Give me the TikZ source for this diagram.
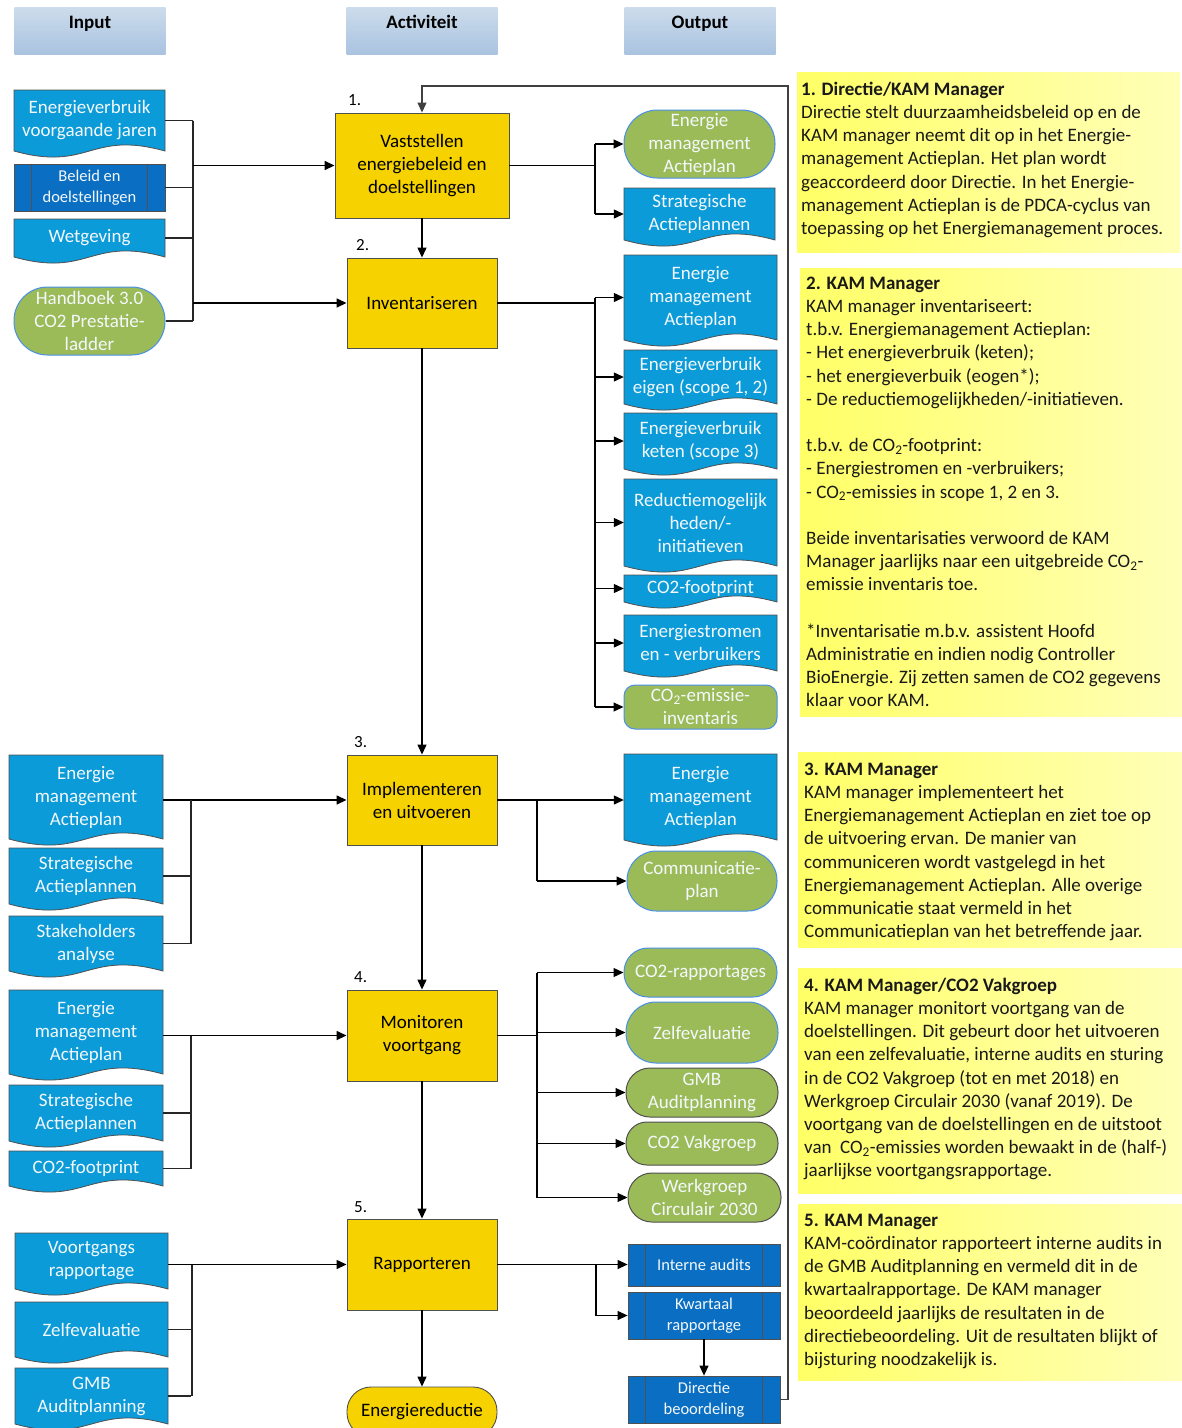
\documentclass[tikz,border=0pt]{standalone}
\usepackage{fontspec}
\setmainfont{Carlito}
\usetikzlibrary{arrows.meta}
\definecolor{docblue}{HTML}{0A9BD8}
\definecolor{predblue}{HTML}{0A6FC2}
\definecolor{grn}{HTML}{9BBB59}
\definecolor{actyel}{HTML}{F5D200}
\definecolor{stadb}{HTML}{4A8FE7}
\definecolor{edge}{HTML}{505050}
\definecolor{hdrtop}{HTML}{CDDCEC}
\definecolor{hdrbot}{HTML}{A9C3E0}
\definecolor{noteL}{HTML}{FFFF66}
\definecolor{noteR}{HTML}{FFFFB8}
\definecolor{wtxt}{HTML}{F4F8FB}
\newcommand\myshapefont{\fontsize{19}{23}\selectfont}
\newcommand\mypredfont{\fontsize{16.5}{21}\selectfont}
\newcommand\mynotefont{\fontsize{19}{23.2}\selectfont}
\tikzset{
  shapetext/.style={inner sep=0pt, align=center, text=wtxt, font=\myshapefont},
  docshp/.style={fill=docblue, draw=edge, line width=0.8pt},
  pred/.style={fill=predblue, draw=edge, line width=0.8pt, inner sep=0pt, align=center, text=wtxt, font=\mypredfont},
  predln/.style={draw=edge, line width=0.8pt},
  stad/.style={fill=grn, line width=1pt, inner sep=0pt, align=center, text=wtxt, font=\myshapefont},
  act/.style={fill=actyel, draw=edge, line width=0.9pt, inner sep=0pt, align=center, text=black, font=\myshapefont},
  hdr/.style={top color=hdrtop, bottom color=hdrbot, draw=none, inner sep=0pt, font=\myshapefont\bfseries, text height=13pt, text depth=18pt},
  steplbl/.style={anchor=west, inner sep=0pt, font=\fontsize{17}{20}\selectfont},
  notebox/.style={left color=noteL, right color=noteR, draw=none, anchor=north west, inner sep=0pt},
  notetext/.style={anchor=north west, inner sep=0pt, align=left, font=\mynotefont, text=black!90},
  arr/.style={draw=black, line width=1.5pt, -{Triangle[length=10pt,width=9pt]}},
  oarr/.style={draw=black, line width=1.2pt, -{Triangle[length=10pt,width=9pt]}},
  ln/.style={draw=black, line width=1.2pt},
  thinln/.style={draw=black!85, line width=1.1pt}
}
% document shape: name x1 y1 x2 y2(wave bottom) text
\newcommand\docnode[6]{%
  \pgfmathsetmacro\dw{#4-#2}\pgfmathsetmacro\dh{#5-#3-6}%
  \pgfmathsetmacro\dcx{(#2+#4)/2}\pgfmathsetmacro\dyb{#5-6}%
  \pgfmathsetmacro\dcy{(#3+\dyb)/2}%
  \filldraw[docshp] (#2,#3) -- (#4,#3) -- (#4,\dyb) .. controls (\dcx,\dyb-21) and (\dcx,\dyb+21) .. (#2,\dyb) -- cycle;
  \node[shapetext, minimum width=\dw pt, minimum height=\dh pt] (#1) at (\dcx,\dcy) {#6};}
% predefined process: name x1 y1 x2 y2 text
\newcommand\prednode[6]{%
  \pgfmathsetmacro\pw{#4-#2}\pgfmathsetmacro\ph{#5-#3}%
  \node[pred, minimum width=\pw pt, minimum height=\ph pt] (#1) at ({(#2+#4)/2},{(#3+#5)/2}) {#6};
  \draw[predln] ([xshift=18pt]#1.north west) -- ([xshift=18pt]#1.south west);
  \draw[predln] ([xshift=-18pt]#1.north east) -- ([xshift=-18pt]#1.south east);}
% stadium: name x1 y1 x2 y2 bordercolour text
\newcommand\stadnode[7]{%
  \pgfmathsetmacro\sw{#4-#2}\pgfmathsetmacro\sh{#5-#3}\pgfmathsetmacro\sr{\sh/2-0.5}%
  \node[stad, draw=#6, minimum width=\sw pt, minimum height=\sh pt, rounded corners=\sr pt] (#1) at ({(#2+#4)/2},{(#3+#5)/2}) {#7};}
\begin{document}
\begin{tikzpicture}[x=1pt,y=-1pt]
\useasboundingbox (0,0) rectangle (1182,1428);
\fill[white] (0,0) rectangle (1182,1428);

% headers
\node[hdr, minimum width=151pt, minimum height=47pt] (hin) at (90,30.5) {Input};
\node[hdr, minimum width=151pt, minimum height=47pt] (hact) at (422,30.5) {Activiteit};
\node[hdr, minimum width=151pt, minimum height=47pt] (hout) at (700,30.5) {Output};

% activities
\node[act, minimum width=174pt, minimum height=105pt] (a1) at (422,165.5) {Vaststellen\\energiebeleid en\\doelstellingen};
\node[act, minimum width=150pt, minimum height=90pt] (a2) at (422,303) {Inventariseren};
\node[act, minimum width=150pt, minimum height=90pt] (a3) at (422,800) {Implementeren\\en uitvoeren};
\node[act, minimum width=150pt, minimum height=91pt] (a4) at (422,1035.5) {Monitoren\\voortgang};
\node[act, minimum width=150pt, minimum height=91pt] (a5) at (422,1264.5) {Rapporteren};
\node[act, minimum width=150pt, minimum height=50pt, rounded corners=24pt] (er) at (422,1412) {Energiereductie};

\node[steplbl] (s1) at (348,100) {1.};
\node[steplbl] (s2) at (356,245) {2.};
\node[steplbl] (s3) at (354,742) {3.};
\node[steplbl] (s4) at (354,977) {4.};
\node[steplbl] (s5) at (354,1207) {5.};

% section 1 inputs
\docnode{i1a}{14}{90}{165}{157}{Energieverbruik\\voorgaande jaren}
\prednode{i1b}{14}{164}{165}{211}{Beleid en\\doelstellingen}
\docnode{i1c}{14}{219}{165}{263}{Wetgeving}
\stadnode{i1d}{14}{287}{165}{355}{stadb}{Handboek 3.0\\CO2 Prestatie-\\ladder}

% section 1 outputs
\stadnode{o1a}{624}{110}{775}{178}{stadb}{Energie\\management\\Actieplan}
\docnode{o1b}{624}{188}{775}{246}{Strategische\\Actieplannen}

% section 2 outputs
\docnode{o2a}{624}{255}{777}{346}{Energie\\management\\Actieplan}
\docnode{o2b}{624}{350}{777}{410}{Energieverbruik\\eigen (scope 1, 2)}
\docnode{o2c}{624}{413}{777}{475}{Energieverbruik\\keten (scope 3)}
\docnode{o2d}{624}{479}{777}{572}{Reductiemogelijk\\heden/-\\initiatieven}
\docnode{o2e}{624}{575}{777}{608}{CO2-footprint}
\docnode{o2f}{624}{615}{777}{677}{Energiestromen\\en - verbruikers}
\node[stad, draw=stadb, minimum width=153pt, minimum height=44pt, rounded corners=11pt] (o2g) at (700.5,707) {CO\textsubscript{2}-emissie-\\inventaris};

% section 3
\docnode{i3a}{9}{755}{163}{845}{Energie\\management\\Actieplan}
\docnode{i3b}{9}{848}{163}{910}{Strategische\\Actieplannen}
\docnode{i3c}{9}{916}{163}{977}{Stakeholders\\analyse}
\docnode{o3a}{624}{754}{777}{846}{Energie\\management\\Actieplan}
\stadnode{o3b}{627}{851}{777}{911}{stadb}{Communicatie-\\plan}

% section 4
\docnode{i4a}{9}{990}{163}{1080}{Energie\\management\\Actieplan}
\docnode{i4b}{9}{1085}{163}{1147}{Strategische\\Actieplannen}
\docnode{i4c}{9}{1151}{163}{1192}{CO2-footprint}
\stadnode{o4a}{624}{948}{777}{997}{stadb}{CO2-rapportages}
\stadnode{o4b}{626}{1002}{778}{1063}{stadb}{Zelfevaluatie}
\stadnode{o4c}{626}{1068}{778}{1117}{edge}{GMB\\Auditplanning}
\stadnode{o4d}{626}{1122}{778}{1165}{edge}{CO2 Vakgroep}
\stadnode{o4e}{628}{1173}{781}{1222}{edge}{Werkgroep\\Circulair 2030}

% section 5
\docnode{i5a}{15}{1233}{168}{1295}{Voortgangs\\rapportage}
\docnode{i5b}{15}{1302}{168}{1363}{Zelfevaluatie}
\docnode{i5c}{15}{1368}{168}{1430}{GMB\\Auditplanning}
\prednode{o5a}{628}{1244}{780}{1286}{Interne audits}
\prednode{o5b}{628}{1292}{780}{1339}{Kwartaal\\rapportage}
\prednode{o5c}{628}{1376}{780}{1423}{Directie\\beoordeling}

% bus coordinates
\coordinate (b1) at (193,0);
\coordinate (b2) at (595,0);
\coordinate (b3) at (191,0);
\coordinate (b4) at (537,0);
\coordinate (b5) at (596,0);
\coordinate (fb) at (788,86);

% section 1 connectors
\foreach \n in {i1a,i1b,i1c,i1d} \draw[thinln] (\n.east) -- (\n.east -| b1);
\draw[thinln] (i1a.east -| b1) -- (i1d.east -| b1);
\draw[arr] (b1 |- a1.west) -- (a1.west);
\draw[arr] (b1 |- a2.west) -- (a2.west);
\draw[ln] (a1.east) -- (b2 |- a1.east);
\draw[ln] (b2 |- o1a.west) -- (b2 |- o1b.west);
\draw[oarr] (b2 |- o1a.west) -- (o1a.west);
\draw[oarr] (b2 |- o1b.west) -- (o1b.west);

% section 2 connectors
\draw[ln] (a2.east) -- (b2 |- a2.east);
\draw[ln] (b2 |- o2a.west) -- (b2 |- o2g.west);
\foreach \n in {o2a,o2b,o2c,o2d,o2e,o2f,o2g} \draw[oarr] (b2 |- \n.west) -- (\n.west);

% section 3 connectors
\draw[arr] (i3a.east |- a3.west) -- (a3.west);
\draw[thinln] (i3b.east) -- (i3b.east -| b3);
\draw[thinln] (i3c.east) -- (i3c.east -| b3);
\draw[thinln] (b3 |- a3.west) -- (b3 |- i3c.east);
\draw[oarr] (a3.east) -- (a3.east -| o3a.west);
\draw[ln] (b4 |- a3.east) -- (b4 |- o3b.west);
\draw[oarr] (b4 |- o3b.west) -- (o3b.west);

% section 4 connectors
\draw[arr] (i4a.east |- a4.west) -- (a4.west);
\draw[thinln] (i4b.east) -- (i4b.east -| b3);
\draw[thinln] (i4c.east) -- (i4c.east -| b3);
\draw[thinln] (b3 |- a4.west) -- (b3 |- i4c.east);
\draw[ln] (a4.east) -- (b4 |- a4.east);
\draw[ln] (b4 |- o4a.west) -- (b4 |- o4e.west);
\foreach \n in {o4a,o4b,o4c,o4d,o4e} \draw[oarr] (b4 |- \n.west) -- (\n.west);

% section 5 connectors
\draw[arr] (i5a.east |- a5.west) -- (a5.west);
\draw[thinln] (i5b.east) -- (i5b.east -| b3);
\draw[thinln] (i5c.east) -- (i5c.east -| b3);
\draw[thinln] ([xshift=1pt]b3 |- a5.west) -- ([xshift=1pt]b3 |- i5c.east);
\draw[oarr] (a5.east) -- (a5.east -| o5a.west);
\draw[ln] (b5 |- a5.east) -- (b5 |- o5b.west);
\draw[oarr] (b5 |- o5b.west) -- (o5b.west);
\draw[oarr] (o5b.south) -- (o5c.north);

% main flow
\draw[oarr] (a1.south) -- (a2.north);
\draw[oarr] (a2.south) -- (a3.north);
\draw[oarr] (a3.south) -- (a4.north);
\draw[oarr] (a4.south) -- (a5.north);
\draw[oarr] (a5.south) -- (er.north);
\draw[draw=black!75, line width=1.1pt, -{Triangle[length=10pt,width=9pt]}] (o5c.east) -| (fb) -| (a1.north);

% notes
\node[notebox, minimum width=383pt, minimum height=180pt] (n1) at (797,72) {};
\node[notebox, minimum width=382pt, minimum height=448pt] (n2) at (800,268) {};
\node[notebox, minimum width=384pt, minimum height=195pt] (n3) at (798,752) {};
\node[notebox, minimum width=384pt, minimum height=225pt] (n4) at (798,968) {};
\node[notebox, minimum width=384pt, minimum height=176pt] (n5) at (798,1204) {};

\node[notetext] (t1) at (801,81) {\rule{0pt}{14pt}\textbf{1. Directie/KAM Manager}\\
Directie stelt duurzaamheidsbeleid op en de\\
KAM manager neemt dit op in het Energie-\\
management Actieplan. Het plan wordt\\
geaccordeerd door Directie. In het Energie-\\
management Actieplan is de PDCA-cyclus van\\
toepassing op het Energiemanagement proces.};

\node[notetext] (t2) at (806,275) {\rule{0pt}{14pt}\textbf{2. KAM Manager}\\
KAM manager inventariseert:\\
t.b.v. Energiemanagement Actieplan:\\
- Het energieverbruik (keten);\\
- het energieverbuik (eogen*);\\
- De reductiemogelijkheden/-initiatieven.\\
\mbox{}\\
t.b.v. de CO\textsubscript{2}-footprint:\\
- Energiestromen en -verbruikers;\\
- CO\textsubscript{2}-emissies in scope 1, 2 en 3.\\
\mbox{}\\
Beide inventarisaties verwoord de KAM\\
Manager jaarlijks naar een uitgebreide CO\textsubscript{2}-\\
emissie inventaris toe.\\
\mbox{}\\
*Inventarisatie m.b.v. assistent Hoofd\\
Administratie en indien nodig Controller\\
BioEnergie. Zij zetten samen de CO2 gegevens\\
klaar voor KAM.};

\node[notetext] (t3) at (804,761) {\rule{0pt}{14pt}\textbf{3. KAM Manager}\\
KAM manager implementeert het\\
Energiemanagement Actieplan en ziet toe op\\
de uitvoering ervan. De manier van\\
communiceren wordt vastgelegd in het\\
Energiemanagement Actieplan. Alle overige\\
communicatie staat vermeld in het\\
Communicatieplan van het betreffende jaar.};

\node[notetext] (t4) at (804,977) {\rule{0pt}{14pt}\textbf{4. KAM Manager/CO2 Vakgroep}\\
KAM manager monitort voortgang van de\\
doelstellingen. Dit gebeurt door het uitvoeren\\
van een zelfevaluatie, interne audits en sturing\\
in de CO2 Vakgroep (tot en met 2018) en\\
Werkgroep Circulair 2030 (vanaf 2019). De\\
voortgang van de doelstellingen en de uitstoot\\
van \ CO\textsubscript{2}-emissies worden bewaakt in de (half-)\\
jaarlijkse voortgangsrapportage.};

\node[notetext] (t5) at (804,1212) {\rule{0pt}{14pt}\textbf{5. KAM Manager}\\
KAM-coördinator rapporteert interne audits in\\
de GMB Auditplanning en vermeld dit in de\\
kwartaalrapportage. De KAM manager\\
beoordeeld jaarlijks de resultaten in de\\
directiebeoordeling. Uit de resultaten blijkt of\\
bijsturing noodzakelijk is.};
\end{tikzpicture}
\end{document}
